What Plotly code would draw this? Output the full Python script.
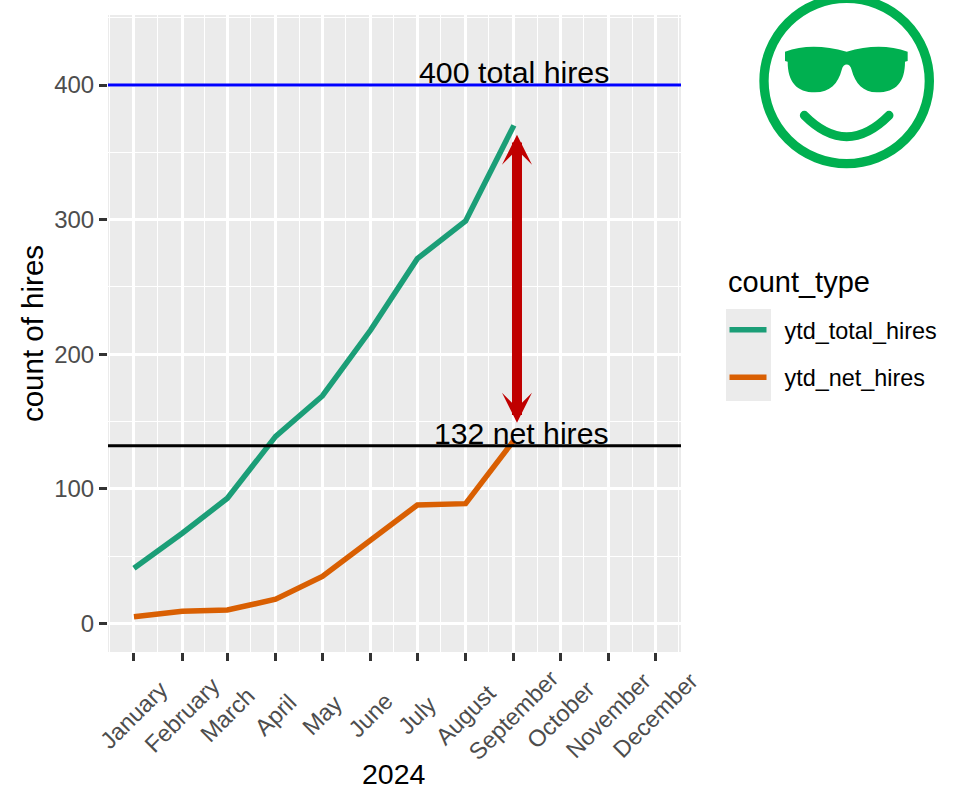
import base64
import plotly.graph_objects as go

# Monthly year-to-date hire counts
month_dates = ["2024-%02d-01" % m for m in range(1, 13)]
month_names = ["January", "February", "March", "April", "May", "June", "July",
               "August", "September", "October", "November", "December"]
ytd_total_hires = [41, 67, 93, 139, 169, 218, 271, 299, 370]
ytd_net_hires = [5, 9, 10, 18, 35, 62, 88, 89, 136]

total_target = 400
net_target = 132

y_ticks = [0, 100, 200, 300, 400]
y_minor = [50, 150, 250, 350, 450]
x_minor = ["2023-12-16", "2024-01-16", "2024-02-15", "2024-03-16", "2024-04-16",
           "2024-05-16", "2024-06-16", "2024-07-16", "2024-08-16", "2024-09-16",
           "2024-10-16", "2024-11-16", "2024-12-16"]
x_range = ["2023-12-15 08:00", "2024-12-17 08:00"]
y_range = [-21.2, 452]

GREEN = "#1B9E77"
ORANGE = "#D95F02"
RED = "#C00000"
ICON = "#00B050"
TEXT_GREY = "#4D4D4D"
FONT = "Liberation Sans"
LEGEND_PAD = "\u00a0\u00a0"  # gap between legend key and its label

# Sunglasses smiley drawn as a small inline SVG
icon_svg = f"""<svg xmlns="http://www.w3.org/2000/svg" viewBox="0 -60 654 600">
<circle cx="320" cy="243" r="248" fill="none" stroke="{ICON}" stroke-width="28"/>
<path d="M135 155 Q215 126 320 155 Q420 126 503 155 L503 183 L495 185
C495 245 470 277 410 277 C370 277 345 250 335 210 C330 188 310 188 305 210
C295 250 270 277 225 277 C170 277 143 245 143 185 L135 183 Z" fill="{ICON}"/>
<path d="M193 346 Q320 474 447 346" fill="none" stroke="{ICON}" stroke-width="27" stroke-linecap="round"/>
</svg>"""
icon_uri = "data:image/svg+xml;base64," + base64.b64encode(icon_svg.encode()).decode()

W, H = 958, 792
L, R, T, B = 108, 277, 15, 140


def px(x):
    return (x - L) / (W - L - R)


def py(y):
    return 1 - (y - T) / (H - T - B)


fig = go.Figure()
fig.add_trace(go.Scatter(
    x=month_dates[:len(ytd_total_hires)], y=ytd_total_hires, mode="lines",
    name=LEGEND_PAD + "ytd_total_hires", legendgroup="total",
    line=dict(color=GREEN, width=5.5, shape="linear"),
))
fig.add_trace(go.Scatter(
    x=month_dates[:len(ytd_net_hires)], y=ytd_net_hires, mode="lines",
    name=LEGEND_PAD + "ytd_net_hires", legendgroup="net",
    line=dict(color=ORANGE, width=5.5, shape="linear"),
))

# Reference lines across the whole panel
fig.add_shape(type="line", xref="paper", x0=0, x1=1, y0=total_target, y1=total_target,
              line=dict(color="#0000FF", width=3), layer="above")
fig.add_shape(type="line", xref="paper", x0=0, x1=1, y0=net_target, y1=net_target,
              line=dict(color="black", width=3), layer="above")

# Grey backing for the legend keys
fig.add_shape(type="rect", xref="paper", yref="paper", x0=px(726), x1=px(771),
              y0=py(401), y1=py(309), fillcolor="#EBEBEB", line_width=0, layer="below")

annotations = [
    dict(x="2024-09-01", y=total_target, xref="x", yref="y", text=f"{total_target} total hires",
         showarrow=False, yanchor="bottom", yshift=-6, font=dict(size=30.3, color="black")),
    dict(x="2024-09-06", y=net_target, xref="x", yref="y", text=f"{net_target} net hires",
         showarrow=False, yanchor="bottom", yshift=-6, font=dict(size=30.2, color="black")),
    # Double-headed arrow spanning the gap between hires counts
    dict(x="2024-09-03", y=363, ax="2024-09-03", ay=148, xref="x", yref="y", axref="x", ayref="y",
         text="", showarrow=True, arrowhead=3, arrowside="end+start", startarrowhead=3,
         arrowsize=0.5, startarrowsize=0.5, arrowwidth=10, arrowcolor=RED),
    # Legend heading and bottom axis title
    dict(x=px(726), y=py(282), xref="paper", yref="paper", text="count_type", showarrow=False,
         xanchor="left", yanchor="middle", font=dict(size=29, color="black")),
    dict(x=px(394), y=py(774), xref="paper", yref="paper", text="2024", showarrow=False,
         xanchor="center", yanchor="middle", font=dict(size=28.5, color="black")),
]
# Month labels sit centred beneath their ticks
for d, name in zip(month_dates, month_names):
    annotations.append(dict(
        x=d, y=py(715), xref="x", yref="paper", text=name, textangle=-45, showarrow=False,
        xanchor="center", yanchor="middle", font=dict(size=23.5, color=TEXT_GREY),
    ))

fig.update_layout(
    width=W, height=H, autosize=False,
    margin=dict(l=L, r=R, t=T, b=B),
    paper_bgcolor="white", plot_bgcolor="#EBEBEB",
    font=dict(family=FONT, color="black"),
    annotations=annotations,
    images=[dict(source=icon_uri, xref="paper", yref="paper", x=px(740), y=py(-20),
                 sizex=218 / (W - L - R), sizey=200 / (H - T - B),
                 xanchor="left", yanchor="top", sizing="stretch", layer="above")],
    legend=dict(
        x=px(724.5), y=py(308), xanchor="left", yanchor="top",
        font=dict(size=23.4, color="black"), bgcolor="rgba(0,0,0,0)",
        tracegroupgap=14, itemwidth=37,
    ),
    xaxis=dict(
        type="date", range=x_range, tickvals=month_dates, showticklabels=False,
        ticks="outside", ticklen=8, tickwidth=3, tickcolor="#333333",
        showgrid=True, gridcolor="white", gridwidth=2.5, zeroline=False,
        minor=dict(tickvals=x_minor, showgrid=True, gridcolor="white", gridwidth=1.2, ticks=""),
    ),
    yaxis=dict(
        range=y_range, tickvals=y_ticks, ticks="outside", ticklen=8, tickwidth=3,
        tickcolor="#333333", tickfont=dict(size=24, color=TEXT_GREY),
        showgrid=True, gridcolor="white", gridwidth=2.5, zeroline=False,
        minor=dict(tickvals=y_minor, showgrid=True, gridcolor="white", gridwidth=1.2, ticks=""),
        title=dict(text="count of hires", font=dict(size=29.5, color="black"), standoff=1),
    ),
)

fig.write_html("out.html")
